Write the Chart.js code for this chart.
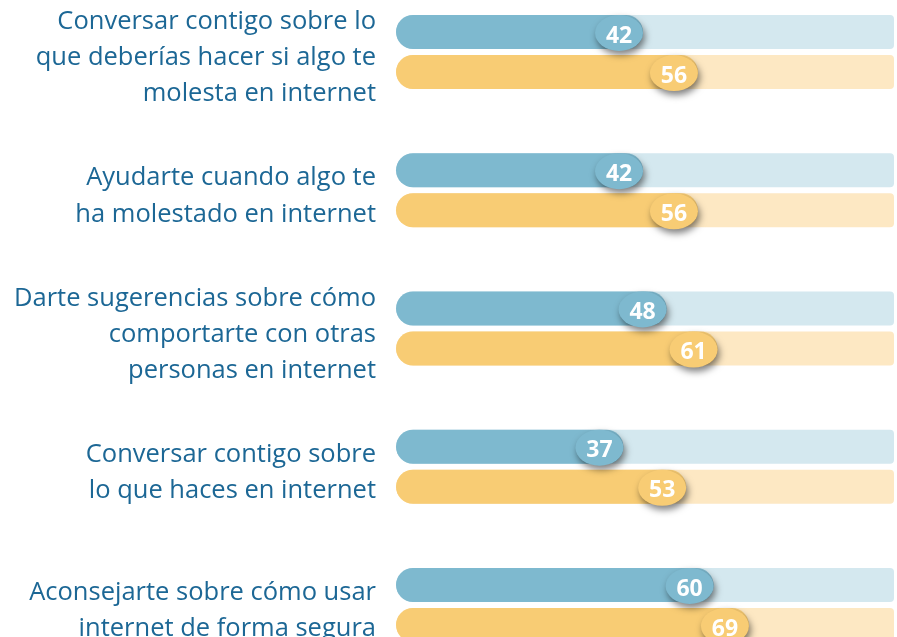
<!DOCTYPE html>
<html>
<head>
<meta charset="utf-8">
<script src="https://cdn.jsdelivr.net/npm/chart.js@4/dist/chart.umd.min.js"></script>
<style>
  html, body { margin: 0; padding: 0; background: #ffffff; }
  #wrap { width: 897px; height: 637px; position: relative; }
</style>
</head>
<body>
<div id="wrap"><canvas id="c" width="897" height="637"></canvas></div>
<script>
const categories = [
  ["Conversar contigo sobre lo", "que deberías hacer si algo te", "molesta en internet"],
  ["Ayudarte cuando algo te", "ha molestado en internet"],
  ["Darte sugerencias sobre cómo", "comportarte con otras", "personas en internet"],
  ["Conversar contigo sobre", "lo que haces en internet"],
  ["Aconsejarte sobre cómo usar", "internet de forma segura"]
];
const seriesBlue = [42, 42, 48, 37, 60];
const seriesOrange = [56, 56, 61, 53, 69];
// full-width background track behind each bar (reaches the right edge of the plot)
const trackValues = [106, 106, 106, 106, 106];
const axisMin = -21;
const axisMax = 106;

const BLUE = '#7EB9CF', BLUE_TRACK = '#D4E8EF';
const ORANGE = '#F8CC74', ORANGE_TRACK = '#FDE8C3';
const TEXT = '#1C6795';

const markerPlugin = {
  id: 'markers',
  afterDatasetsDraw(chart) {
    const ctx = chart.ctx;
    [0, 1].forEach(di => {
      const meta = chart.getDatasetMeta(di);
      const ds = chart.data.datasets[di];
      meta.data.forEach((bar, i) => {
        const rx = 24, ry = 18;
        const cx = bar.x - rx, cy = bar.y + 1;
        ctx.save();
        ctx.shadowColor = 'rgba(0,0,0,0.5)';
        ctx.shadowBlur = 7;
        ctx.shadowOffsetX = 2;
        ctx.shadowOffsetY = 4;
        ctx.beginPath();
        ctx.ellipse(cx, cy, rx, ry, 0, 0, Math.PI * 2);
        ctx.fillStyle = ds.backgroundColor;
        ctx.fill();
        ctx.restore();
        ctx.save();
        ctx.fillStyle = '#ffffff';
        ctx.font = 'bold 23px "Open Sans", sans-serif';
        ctx.textAlign = 'center';
        ctx.textBaseline = 'middle';
        ctx.fillText(String(ds.data[i]), cx, cy + 3);
        ctx.restore();
      });
    });
  }
};

const trackClip = { left: false, right: 0, top: false, bottom: false };
const valueStyle = { borderRadius: 17, borderSkipped: false, base: axisMin };
const trackStyle = {
  borderRadius: { topLeft: 17, bottomLeft: 17, topRight: 4, bottomRight: 4 },
  borderSkipped: false, base: axisMin
};

new Chart(document.getElementById('c'), {
  type: 'bar',
  data: {
    labels: categories,
    datasets: [
      Object.assign({ data: seriesBlue, backgroundColor: BLUE, stack: 'b', clip: false }, valueStyle),
      Object.assign({ data: seriesOrange, backgroundColor: ORANGE, stack: 'o', clip: false }, valueStyle),
      Object.assign({ data: trackValues, backgroundColor: BLUE_TRACK, stack: 'b', clip: trackClip }, trackStyle),
      Object.assign({ data: trackValues, backgroundColor: ORANGE_TRACK, stack: 'o', clip: trackClip }, trackStyle)
    ]
  },
  options: {
    indexAxis: 'y',
    responsive: false,
    animation: false,
    categoryPercentage: 0.58,
    barPercentage: 0.85,
    layout: { padding: { top: 52, bottom: 32, left: 0, right: 3 } },
    plugins: { legend: { display: false }, tooltip: { enabled: false } },
    scales: {
      x: { display: false, min: axisMin, max: axisMax, stacked: false },
      y: {
        stacked: true,
        offset: false,
        grid: { display: false, drawTicks: false },
        border: { display: false },
        afterFit(scale) { scale.width = 396; scale.paddingTop = 0; scale.paddingBottom = 0; },
        ticks: {
          color: TEXT,
          padding: 20,
          labelOffset: 6,
          font: { family: '"Open Sans", sans-serif', size: 25.5, lineHeight: 1.42 }
        }
      }
    }
  },
  plugins: [markerPlugin]
});
</script>
</body>
</html>
